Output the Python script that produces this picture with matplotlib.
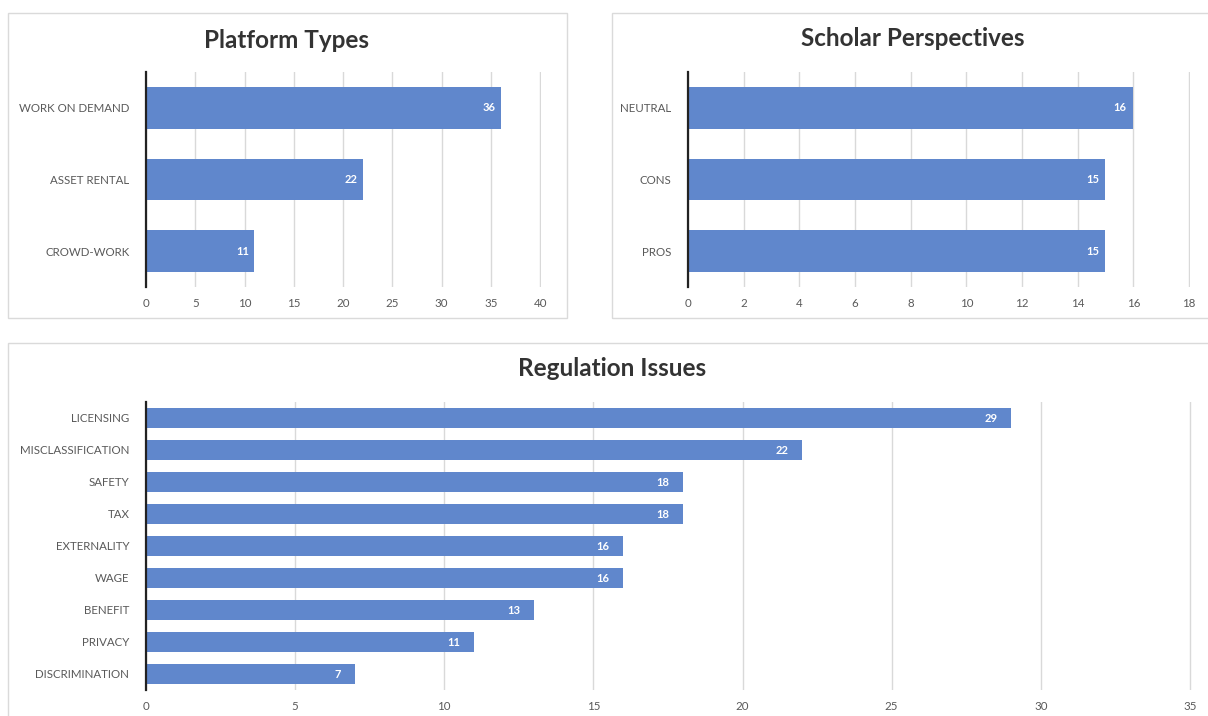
import matplotlib.pyplot as plt
from matplotlib.patches import Rectangle

# values
platform_types = ['CROWD-WORK', 'ASSET RENTAL', 'WORK ON DEMAND']
platform_counts = [11, 22, 36]

perspectives = ['PROS', 'CONS', 'NEUTRAL']
perspective_counts = [15, 15, 16]

issues = ['DISCRIMINATION', 'PRIVACY', 'BENEFIT', 'WAGE', 'EXTERNALITY',
          'TAX', 'SAFETY', 'MISCLASSIFICATION', 'LICENSING']
issue_counts = [7, 11, 13, 16, 16, 18, 18, 22, 29]

W, H = 1208, 716
BAR = '#6087CC'
GRID = '#D9D9D9'
TXT = '#595959'

plt.rcParams['font.family'] = ['Lato', 'DejaVu Sans']

fig = plt.figure(figsize=(W / 100, H / 100), dpi=100)


def px_box(x0, y0, x1, y1):
    # pixel box (top-left origin) -> figure fraction [l, b, w, h]
    return [x0 / W, 1 - y1 / H, (x1 - x0) / W, (y1 - y0) / H]


def panel(x0, y0, x1, y1):
    l, b, w, h = px_box(x0, y0, x1, y1)
    fig.patches.append(Rectangle((l, b), w, h, transform=fig.transFigure,
                                 fill=False, edgecolor='#DADADA', lw=1.0))


def bar_chart(rect, cats, vals, xmax, step, height, title, title_xy):
    ax = fig.add_axes(px_box(*rect))
    ax.barh(range(len(cats)), vals, height=height, color=BAR, zorder=3)
    ax.set_xlim(0, xmax * 1.002)
    ax.set_ylim(-0.5, len(cats) - 0.5)
    ax.set_xticks(range(0, xmax + 1, step))
    ax.set_yticks(range(len(cats)))
    ax.set_yticklabels(cats)
    ax.tick_params(length=0, colors=TXT, labelsize=8.3)
    ax.tick_params(axis='x', pad=8)
    ax.tick_params(axis='y', pad=12)
    ax.grid(axis='x', color=GRID, lw=1, zorder=0)
    for s in ['top', 'right', 'bottom']:
        ax.spines[s].set_visible(False)
    ax.spines['left'].set_color('#222222')
    ax.spines['left'].set_linewidth(1.6)
    ax.spines['left'].set_zorder(4)
    for i, v in enumerate(vals):
        ax.text(v - xmax * 0.013, i, str(v), ha='right', va='center',
                color='white', fontsize=8, fontweight='bold', zorder=5)
    fig.text(title_xy[0] / W, 1 - title_xy[1] / H, title, ha='center',
             va='center', fontsize=17.5, fontweight='bold', color='#333333')
    return ax


panel(8, 13, 567, 318)
panel(612, 13, 1215, 318)
panel(8, 343, 1215, 725)

bar_chart((146, 72, 541, 287), platform_types, platform_counts, 40, 5, 0.58,
          'Platform Types', (287, 40))
bar_chart((688, 72, 1190, 287), perspectives, perspective_counts, 18, 2, 0.58,
          'Scholar Perspectives', (913, 38))
bar_chart((146, 402, 1192, 690), issues, issue_counts, 35, 5, 0.6,
          'Regulation Issues', (612, 369))

fig.savefig('out.png', dpi=100, facecolor='white')
